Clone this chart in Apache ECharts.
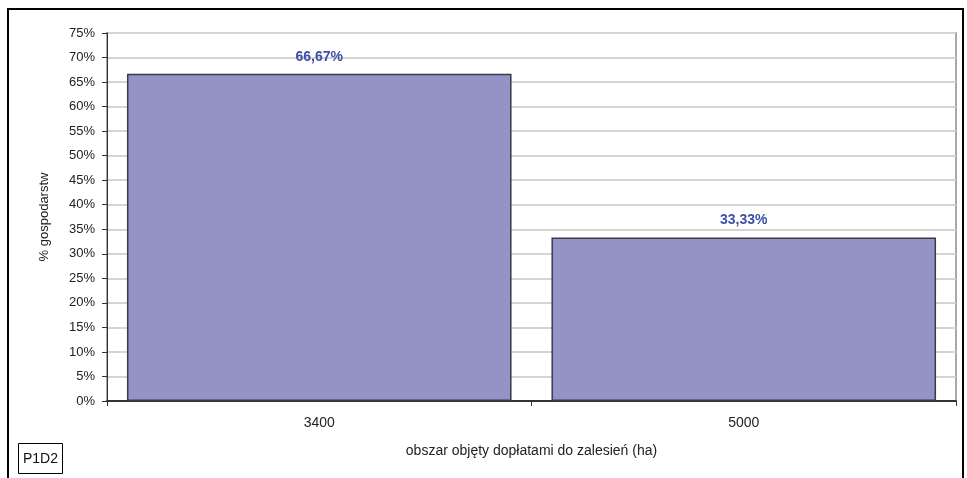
<!DOCTYPE html>
<html>
<head>
<meta charset="utf-8">
<style>
  html, body { margin: 0; padding: 0; background: #fff; }
  #chart { width: 967px; height: 478px; }
</style>
<script src="https://cdn.jsdelivr.net/npm/echarts@6/dist/echarts.min.js"></script>
</head>
<body>
<div id="chart"></div>
<script>
// Share of farms by area covered by afforestation subsidies
const categories = ['3400', '5000'];
const shares = [66.67, 33.33];
const yTicks = { min: 0, max: 75, interval: 5 };
const xAxisTitle = 'obszar objęty dopłatami do zalesień (ha)';
const yAxisTitle = '% gospodarstw';
const badgeText = 'P1D2';

const FONT = '"Liberation Sans", Arial, sans-serif';

const chart = echarts.init(document.getElementById('chart'), null, { renderer: 'canvas' });

chart.setOption({
  backgroundColor: '#ffffff',
  animation: false,
  textStyle: { fontFamily: FONT },
  grid: {
    left: 107, right: 11, top: 33, bottom: 77,
    show: true,
    borderColor: '#a8a8a8',
    borderWidth: 2,
    backgroundColor: 'transparent'
  },
  xAxis: {
    type: 'category',
    data: categories,
    boundaryGap: true,
    axisLine: { show: true, lineStyle: { color: '#333', width: 2 } },
    axisTick: { show: true, length: 5, lineStyle: { color: '#333', width: 1 } },
    axisLabel: { color: '#222', fontSize: 14, fontFamily: FONT, margin: 15 },
    name: xAxisTitle,
    nameLocation: 'middle',
    nameGap: 43,
    nameTextStyle: { color: '#222', fontSize: 14, fontFamily: FONT }
  },
  yAxis: {
    type: 'value',
    min: yTicks.min,
    max: yTicks.max,
    interval: yTicks.interval,
    axisLine: { show: true, lineStyle: { color: '#333', width: 1 } },
    axisTick: { show: true, length: 5, lineStyle: { color: '#333' } },
    axisLabel: { color: '#222', fontSize: 13, fontFamily: FONT, margin: 12, formatter: '{value}%' },
    splitLine: { show: true, lineStyle: { color: '#d4d4d4', width: 2 } },
    name: yAxisTitle,
    nameLocation: 'middle',
    nameGap: 56,
    nameRotate: 90,
    nameTextStyle: { color: '#222', fontSize: 13, fontFamily: FONT }
  },
  series: [{
    type: 'bar',
    data: shares,
    barCategoryGap: '9.4%',
    itemStyle: { color: '#9393c6', borderColor: '#3a3a48', borderWidth: 1.5 },
    label: {
      show: true,
      position: 'top',
      distance: 10,
      color: '#3d4fa6',
      fontWeight: 'bold',
      fontSize: 14,
      fontFamily: FONT,
      formatter: p => p.value.toFixed(2).replace('.', ',') + '%'
    }
  }],
  graphic: [
    {
      type: 'rect',
      shape: { x: 8, y: 9, width: 955, height: 480 },
      style: { fill: 'none', stroke: '#000', lineWidth: 2 },
      silent: true
    },
    {
      type: 'rect',
      shape: { x: 18.5, y: 443.5, width: 44, height: 30 },
      style: { fill: '#fff', stroke: '#000', lineWidth: 1 }
    },
    {
      type: 'text',
      x: 40.5, y: 459,
      style: {
        text: badgeText, fill: '#111', fontSize: 14, fontFamily: FONT,
        align: 'center', verticalAlign: 'middle'
      }
    }
  ]
});
</script>
</body>
</html>
